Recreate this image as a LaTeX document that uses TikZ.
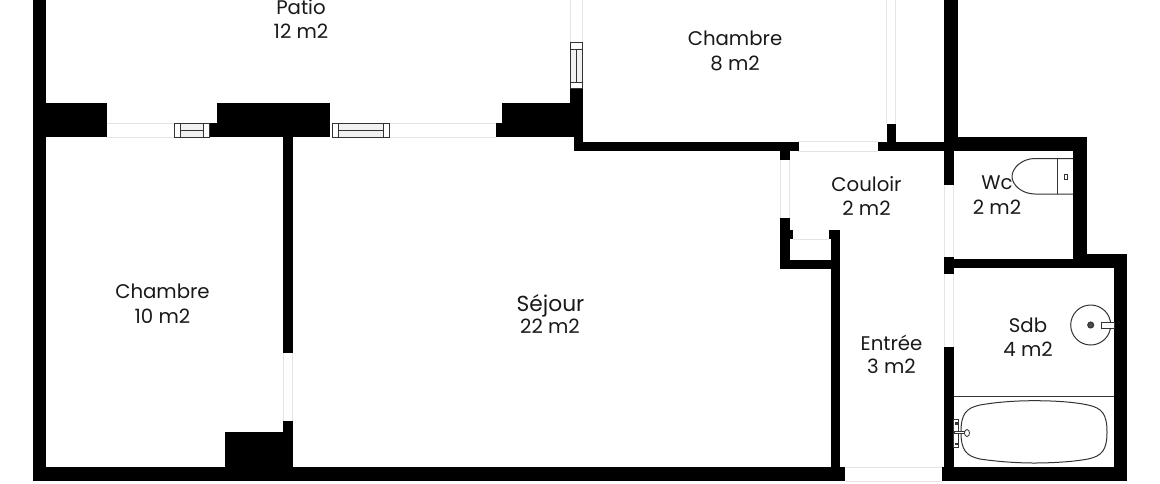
\documentclass[tikz,border=0pt]{standalone}
\usepackage{fontspec}
\setmainfont{Poppins}
\definecolor{doorgray}{HTML}{E4E4E4}
\definecolor{winfill}{HTML}{F1F1F1}
\definecolor{fixline}{HTML}{333333}
\tikzset{
  wall/.style={fill=black,draw=none},
  doorline/.style={draw=doorgray,line width=0.7pt},
  winframe/.style={draw=fixline,line width=0.7pt,fill=white},
  winpane/.style={draw=fixline,line width=0.7pt,fill=winfill},
  fixture/.style={draw=fixline,line width=0.75pt},
  roomlabel/.style={font=\fontsize{14.8pt}{14.8pt}\selectfont,text=black!90,inner sep=0pt,anchor=center},
  bigroomlabel/.style={font=\fontsize{16.3pt}{16.3pt}\selectfont,text=black!90,inner sep=0pt,anchor=center}
}
\begin{document}
\begin{tikzpicture}[x=0.75pt,y=-0.75pt]
\useasboundingbox (0,0) rectangle (1160,483);
% doors / openings (thin gray)
\draw[doorline] (107,123) -- (174,123) (107,137) -- (174,137);
\draw[doorline] (390,123) -- (496,123) (390,137) -- (496,137);
\draw[doorline] (570.5,0) -- (570.5,42) (582.5,0) -- (582.5,42);
\draw[doorline] (886.5,0) -- (886.5,124) (895.5,0) -- (895.5,124);
\draw[doorline] (798,141.5) -- (878,141.5) (798,151) -- (878,151);
\draw[doorline] (780.5,160) -- (780.5,218) (789.5,160) -- (789.5,218);
\draw[doorline] (793,239) -- (829,239);
\draw[doorline] (944.5,185) -- (944.5,257) (953.5,185) -- (953.5,257);
\draw[doorline] (944.5,274) -- (944.5,347) (953.5,274) -- (953.5,347);
\draw[doorline] (283,353) -- (283,421) (292.5,353) -- (292.5,421);
\draw[doorline] (846,467) -- (942,467) (846,481) -- (942,481);
% walls
\fill[wall] (33,0) rectangle (46,481);
\fill[wall] (33,467) rectangle (845,481);
\fill[wall] (46,103) rectangle (107,137);
\fill[wall] (217,103) rectangle (329.5,137);
\fill[wall] (209,123) rectangle (217,137);
\fill[wall] (283,137) rectangle (292.7,353);
\fill[wall] (283,421) rectangle (292.7,467);
\fill[wall] (224.7,432) rectangle (292.7,467);
\fill[wall] (496,123) rectangle (502,137);
\fill[wall] (501.5,103) rectangle (583,137);
\fill[wall] (570,88) rectangle (583,137);
\fill[wall] (574,137) rectangle (583,151);
\fill[wall] (574,141.5) rectangle (798.5,151);
\fill[wall] (780,151) rectangle (790,160);
\fill[wall] (780,218) rectangle (790,269);
\fill[wall] (790,230) rectangle (793,239);
\fill[wall] (780,260) rectangle (840,269);
\fill[wall] (828.7,230) rectangle (840,239);
\fill[wall] (830.7,230) rectangle (840,467);
\fill[wall] (878,141.5) rectangle (954,151);
\fill[wall] (886.7,124) rectangle (896,141.5);
\fill[wall] (944,0) rectangle (957.5,137);
\fill[wall] (944,137) rectangle (954,185);
\fill[wall] (954,136.7) rectangle (1087,151);
\fill[wall] (1073,136.7) rectangle (1087,268);
\fill[wall] (944,257) rectangle (954,274);
\fill[wall] (954,259) rectangle (1127,268);
\fill[wall] (1073,254) rectangle (1127,268);
\fill[wall] (1114,254) rectangle (1127,481);
\fill[wall] (944,347) rectangle (954,467);
\fill[wall] (942,467) rectangle (1127,481);
% windows
\draw[winframe] (174,123.5) rectangle (209,137);
\draw[winpane] (180,123.5) rectangle (203,137);
\draw[fixline,line width=0.7pt] (180,130) -- (203,130);
\draw[winframe] (332,123.5) rectangle (389.5,137);
\draw[winpane] (338.3,123.5) rectangle (383.3,137);
\draw[fixline,line width=0.7pt] (338.3,130.5) -- (383.3,130.5);
\draw[winframe] (570.5,42) rectangle (582.7,88);
\draw[winpane] (570.5,49) rectangle (582.7,82);
\draw[fixline,line width=0.7pt] (576.7,49) -- (576.7,82);
% toilet
\draw[fixture] (1073,158.5) -- (1035,158.5) .. controls (1022,158.5) and (1012,168) .. (1012,176.5) .. controls (1012,185) and (1022,194) .. (1035,194) -- (1073,194);
\draw[fixture] (1057.7,158.5) -- (1057.7,194);
\draw[fixture,line width=0.6pt] (1064.7,174) rectangle (1067.3,179.5);
% sink
\draw[fixture] (1090.7,325) circle (20);
\draw[fixture,fill=black!70] (1090.7,325) circle (3);
\draw[fixture,fill=white] (1101.5,322) rectangle (1114,328.7);
% bathtub
\draw[fixture] (954,396.7) -- (1114,396.7);
\draw[fixture] (961,432) .. controls (961,414) and (966,408) .. (980,405) .. controls (1000,401.5) and (1020,400.7) .. (1034,400.7) .. controls (1050,400.7) and (1072,401.5) .. (1088,405) .. controls (1102,408) and (1107,414) .. (1107,432) .. controls (1107,450) and (1102,456) .. (1088,459) .. controls (1072,462) and (1050,463) .. (1034,463) .. controls (1020,463) and (1000,462) .. (980,459) .. controls (966,456) and (961,450) .. (961,432) -- cycle;
\draw[fixture,line width=0.6pt,fill=white] (953.7,419.5) rectangle (958.7,447);
\draw[fixture,line width=0.6pt,fill=white] (954,431.5) -- (965,431.5) -- (965,433.5) -- (954,433.5) -- cycle;
\draw[fixture,fill=white,line width=0.6pt] (967,433) ellipse (2.5 and 3.5);
\fill[fixline] (954.5,422) rectangle (958,424.5);
\fill[fixline] (954.5,442.5) rectangle (958,445);
% labels
\node[roomlabel] (patioA) at (301,7.5) {Patio};
\node[roomlabel] (patioB) at (301,31) {12 m2};
\node[roomlabel] (chA) at (735,38.7) {Chambre};
\node[roomlabel] (chB) at (735,63) {8 m2};
\node[roomlabel] (chC) at (162.5,291.7) {Chambre};
\node[roomlabel] (chD) at (162.5,316) {10 m2};
\node[bigroomlabel] (sejA) at (550.5,306) {Séjour};
\node[roomlabel] (sejB) at (550,326) {22 m2};
\node[roomlabel] (couA) at (866.5,183.7) {Couloir};
\node[roomlabel] (couB) at (866.5,208) {2 m2};
\node[roomlabel] (wcA) at (997,183) {Wc};
\node[roomlabel] (wcB) at (997,207) {2 m2};
\node[roomlabel] (entA) at (891.5,342.7) {Entrée};
\node[roomlabel] (entB) at (891.5,366) {3 m2};
\node[roomlabel] (sdbA) at (1028,325.7) {Sdb};
\node[roomlabel] (sdbB) at (1028,349) {4 m2};
\end{tikzpicture}
\end{document}
